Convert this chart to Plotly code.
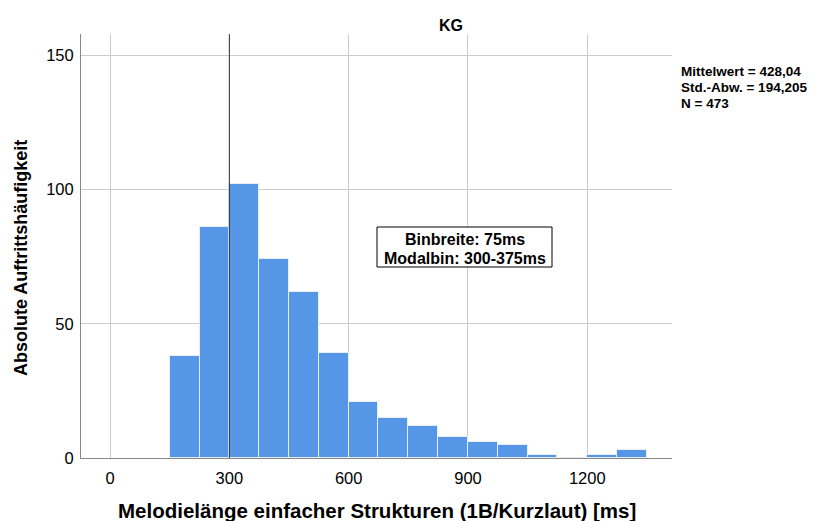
import plotly.graph_objects as go

bin_starts = [150, 225, 300, 375, 450, 525, 600, 675, 750, 825, 900, 975, 1050, 1125, 1200, 1275]
counts = [38, 86, 102, 74, 62, 39, 21, 15, 12, 8, 6, 5, 1, 0, 1, 3]
bin_width = 75
x_ticks = [0, 300, 600, 900, 1200]
y_ticks = [0, 50, 100, 150]
ref_line = 300
stats_lines = ["Mittelwert = 428,04", "Std.-Abw. = 194,205", "N = 473"]
box_lines = ["Binbreite: 75ms", "Modalbin: 300-375ms"]

FONT = "Liberation Sans, Arial, sans-serif"

# plot area in page pixels (page has 8px body offset)
PL, PR, PT, PB = 81, 672, 34, 458
PW, PH = PR - PL, PB - PT


def px(x):
    return (x - PL) / PW


def py(y):
    return (PB - y) / PH


fig = go.Figure()
fig.add_trace(go.Bar(
    x=[s + bin_width / 2 for s in bin_starts],
    y=counts,
    width=[bin_width] * len(bin_starts),
    marker=dict(color="#5596E6", line=dict(color="#E6EEF9", width=1)),
    showlegend=False,
    hoverinfo="y",
))

fig.add_shape(type="line", xref="x", yref="paper", x0=ref_line, x1=ref_line, y0=0, y1=1,
              line=dict(color="#333333", width=1), layer="above")

fig.update_layout(
    width=838, height=521,
    margin=dict(l=PL - 8, r=838 + 8 - PR, t=PT - 8, b=521 + 8 - PB),
    paper_bgcolor="white", plot_bgcolor="white",
    font=dict(family=FONT, size=14, color="black"),
    bargap=0,
    xaxis=dict(range=[-73, 1413], tickvals=x_ticks, showgrid=True, gridcolor="#CCCCCC", gridwidth=1,
               zeroline=False, showline=True, linecolor="#888888", linewidth=1, ticks="",
               tickfont=dict(size=16.5), ticklabelstandoff=5, automargin=False),
    yaxis=dict(range=[0, 157.9], tickvals=y_ticks, showgrid=True, gridcolor="#CCCCCC", gridwidth=1,
               zeroline=False, showline=True, linecolor="#888888", linewidth=1, ticks="",
               tickfont=dict(size=16.5), ticklabelstandoff=3, automargin=False),
)

# title
fig.add_annotation(text="<b>KG</b>", xref="paper", yref="paper", x=px(451), y=py(25),
                   xanchor="center", yanchor="middle", showarrow=False, font=dict(size=16))
# axis titles
fig.add_annotation(text="<b>Melodielänge einfacher Strukturen (1B/Kurzlaut) [ms]</b>",
                   xref="paper", yref="paper", x=px(377), y=py(510),
                   xanchor="center", yanchor="middle", showarrow=False, font=dict(size=20.5))
fig.add_annotation(text="<b>Absolute Auftrittshäufigkeit</b>", textangle=-90,
                   xref="paper", yref="paper", x=px(21), y=py(258),
                   xanchor="center", yanchor="middle", showarrow=False, font=dict(size=18))
# stats
for i, line in enumerate(stats_lines):
    fig.add_annotation(text="<b>" + line + "</b>", xref="paper", yref="paper", x=px(679), y=py(71 + 16 * i),
                       xanchor="left", yanchor="middle", showarrow=False,
                       font=dict(size=13.5))
# box
fig.add_shape(type="rect", xref="paper", yref="paper", x0=px(377), x1=px(552), y0=py(227), y1=py(267),
              line=dict(color="black", width=1), fillcolor="white", layer="above")
for i, line in enumerate(box_lines):
    fig.add_annotation(text="<b>" + line + "</b>", xref="paper", yref="paper", x=px(465), y=py(240 + 18 * i),
                       xanchor="center", yanchor="middle", showarrow=False, font=dict(size=16))

fig.write_html("out.html")
